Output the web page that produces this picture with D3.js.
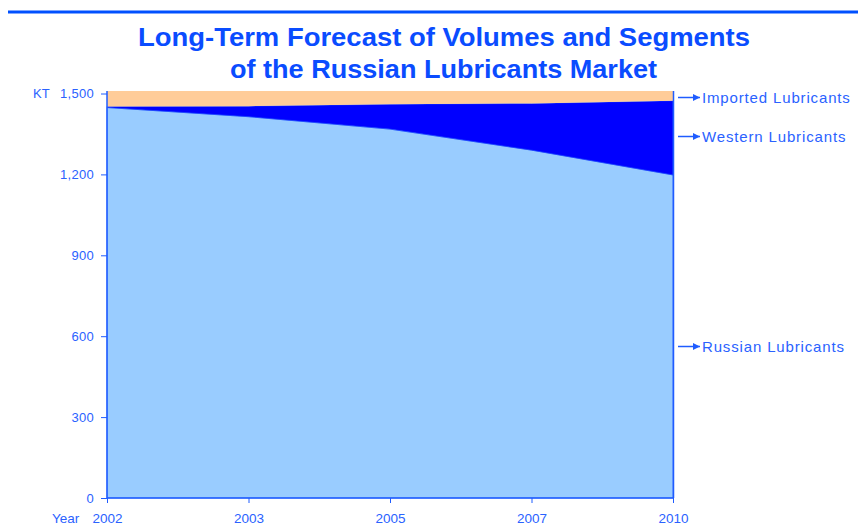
<!DOCTYPE html>
<html><head><meta charset="utf-8">
<script src="https://cdn.jsdelivr.net/npm/d3@7/dist/d3.min.js"></script>
<style>body{margin:0;background:#fff}svg{display:block}</style>
</head><body>
<svg id="c" width="858" height="530"></svg>
<script>
const years = ["2002","2003","2005","2007","2010"];
const russian = [1448,1414,1368,1290,1198];
const western = [4,39,92,173,275];
const imported = [57,56,49,46,36];
const yTicks = [0,300,600,900,1200,1500];
const seriesNames = ["Russian Lubricants","Western Lubricants","Imported Lubricants"];
const colors = ["#99CCFF","#0000FF","#FFCC99"];

const svg = d3.select("#c");
const blue = "#1f5cff";
const textBlue = "#2a62ff";
const font = "Liberation Sans, Arial, sans-serif";
const x = d3.scalePoint().domain(years).range([107,673]);
const y = d3.scaleLinear().domain([0,1500]).range([498,93.5]);

svg.append("rect").attr("x",8).attr("y",10.5).attr("width",850).attr("height",3).attr("fill","#0050ff");

const title = svg.append("g").attr("fill","#0a4cff").attr("font-family",font).attr("font-weight","bold").attr("font-size",26).attr("text-anchor","middle");
title.append("text").attr("x",444).attr("y",46).attr("textLength",612).attr("lengthAdjust","spacingAndGlyphs").text("Long-Term Forecast of Volumes and Segments");
title.append("text").attr("x",443.5).attr("y",78).attr("textLength",427).attr("lengthAdjust","spacingAndGlyphs").text("of the Russian Lubricants Market");

const data = years.map((yr,i)=>({year:yr, r:russian[i], w:western[i], im:imported[i]}));
const stack = d3.stack().keys(["r","w","im"])(data);
const area = d3.area().x(d=>x(d.data.year)).y0(d=>y(d[0])).y1(d=>y(d[1]));
svg.append("g").selectAll("path").data(stack).join("path")
  .attr("d",area).attr("fill",(d,i)=>colors[i]).attr("stroke",(d,i)=>i===2?"none":"#1a4dff").attr("stroke-width",0.6);

// right border
svg.append("line").attr("x1",673.5).attr("x2",673.5).attr("y1",y(1509)).attr("y2",498).attr("stroke",blue).attr("stroke-width",1.5);

const yAxis = svg.append("g").attr("transform","translate(107,0)")
  .call(d3.axisLeft(y).tickValues(yTicks).tickFormat(d3.format(",")).tickSize(6).tickPadding(7));
yAxis.select(".domain").attr("d","M0,"+y(1509)+"V498").attr("stroke",blue).attr("stroke-width",1.5);
yAxis.selectAll(".tick line").attr("stroke",blue);
yAxis.selectAll("text").attr("fill",textBlue).attr("font-family",font).attr("font-size",13).attr("letter-spacing","0.3px");

const xAxis = svg.append("g").attr("transform","translate(0,498)")
  .call(d3.axisBottom(x).tickSize(5).tickPadding(10));
xAxis.select(".domain").attr("d","M107,0H673").attr("stroke",blue).attr("stroke-width",1.5);
xAxis.selectAll(".tick line").attr("stroke",blue);
xAxis.selectAll("text").attr("fill",textBlue).attr("font-family",font).attr("font-size",13.5);

svg.append("text").attr("x",33).attr("y",97.5).attr("fill",textBlue).attr("font-family",font).attr("font-size",13).text("KT");
svg.append("text").attr("x",52).attr("y",522.5).attr("fill",textBlue).attr("font-family",font).attr("font-size",13.5).text("Year");

// right labels with arrows
svg.append("defs").append("marker").attr("id","arr").attr("viewBox","0 0 10 10").attr("refX",10).attr("refY",5)
  .attr("markerWidth",8).attr("markerHeight",7).attr("markerUnits","userSpaceOnUse").attr("orient","auto")
  .append("path").attr("d","M0,0L10,5L0,10Z").attr("fill",blue);
const labelY = [347,137,98];
const lab = svg.append("g");
seriesNames.forEach((n,i)=>{
  lab.append("line").attr("x1",678).attr("x2",700).attr("y1",labelY[i]-0.5).attr("y2",labelY[i]-0.5)
    .attr("stroke",blue).attr("stroke-width",1.5).attr("marker-end","url(#arr)");
  lab.append("text").attr("x",702).attr("y",labelY[i]+5).attr("fill",textBlue)
    .attr("font-family",font).attr("font-size",15).attr("letter-spacing","0.85px").text(n);
});
</script>
</body></html>
